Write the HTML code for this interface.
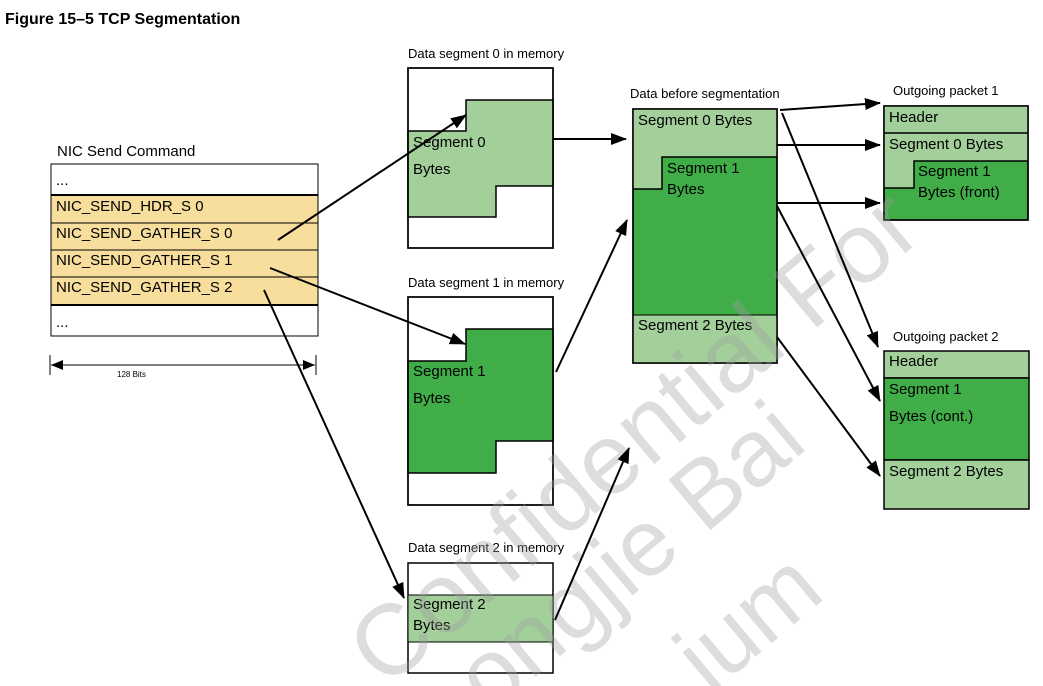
<!DOCTYPE html>
<html><head><meta charset="utf-8"><style>
html,body{margin:0;padding:0;background:#fff;width:1043px;height:686px;overflow:hidden;}
svg{display:block;font-family:"Liberation Sans",Arial,sans-serif;overflow:hidden;}
</style></head><body>
<svg width="1043" height="686" viewBox="0 0 1043 686" xmlns="http://www.w3.org/2000/svg">
<defs>
<marker id="b" markerWidth="16" markerHeight="12" refX="15" refY="6" orient="auto" markerUnits="userSpaceOnUse" viewBox="0 0 16 12">
<path d="M0,0 L16,6 L0,12 z" fill="#000"/></marker>
<clipPath id="c"><rect x="0" y="0" width="1043" height="686"/></clipPath>
</defs>
<text x="5" y="24" font-size="16" font-weight="bold">Figure 15–5  TCP Segmentation</text>

<!-- NIC Send Command -->
<text x="57" y="156" font-size="15">NIC Send Command</text>
<rect x="51" y="164" width="267" height="31" fill="#fff" stroke="#000"/>
<rect x="51" y="195" width="267" height="110" fill="#f8de9c" stroke="#000"/>
<line x1="51" y1="223" x2="318" y2="223" stroke="#000"/>
<line x1="51" y1="250" x2="318" y2="250" stroke="#000"/>
<line x1="51" y1="277" x2="318" y2="277" stroke="#000"/>
<rect x="51" y="305" width="267" height="31" fill="#fff" stroke="#000"/>
<line x1="51" y1="195" x2="318" y2="195" stroke="#000" stroke-width="2"/>
<line x1="51" y1="305" x2="318" y2="305" stroke="#000" stroke-width="2"/>
<g font-size="15">
<text x="56" y="185">...</text>
<text x="56" y="211">NIC_SEND_HDR_S 0</text>
<text x="56" y="238">NIC_SEND_GATHER_S 0</text>
<text x="56" y="265">NIC_SEND_GATHER_S 1</text>
<text x="56" y="292">NIC_SEND_GATHER_S 2</text>
<text x="56" y="327">...</text>
</g>
<line x1="50" y1="355" x2="50" y2="375" stroke="#000"/>
<line x1="316" y1="355" x2="316" y2="375" stroke="#000"/>
<line x1="51" y1="365" x2="315" y2="365" stroke="#000"/>
<path d="M51,365 L63,360 L63,370z M315,365 L303,360 L303,370z" fill="#000"/>
<text x="117" y="377" font-size="8">128 Bits</text>

<!-- Seg 0 memory -->
<text x="408" y="58" font-size="13">Data segment 0 in memory</text>
<rect x="408" y="68" width="145" height="180" fill="#fff" stroke="#000" stroke-width="1.5"/>
<path d="M408,131 H466 V100 H553 V186 H496 V217 H408 z" fill="#a3cf9b" stroke="#000" stroke-width="1.5"/>
<rect x="408" y="68" width="145" height="180" fill="none" stroke="#000" stroke-width="1.5"/>
<text x="413" y="147" font-size="15">Segment 0</text>
<text x="413" y="174" font-size="15">Bytes</text>

<!-- Seg 1 memory -->
<text x="408" y="287" font-size="13">Data segment 1 in memory</text>
<rect x="408" y="297" width="145" height="208" fill="#fff" stroke="#000" stroke-width="1.5"/>
<path d="M408,361 H466 V329 H553 V441 H496 V473 H408 z" fill="#40ad49" stroke="#000" stroke-width="1.5"/>
<rect x="408" y="297" width="145" height="208" fill="none" stroke="#000" stroke-width="1.5"/>
<text x="413" y="376" font-size="15">Segment 1</text>
<text x="413" y="403" font-size="15">Bytes</text>

<!-- Seg 2 memory -->
<text x="408" y="552" font-size="13">Data segment 2 in memory</text>
<rect x="408" y="563" width="145" height="110" fill="#fff" stroke="#000" stroke-width="1.5"/>
<rect x="408" y="595" width="145" height="47" fill="#a3cf9b" stroke="#000" stroke-width="1"/>
<text x="413" y="609" font-size="15">Segment 2</text>
<text x="413" y="630" font-size="15">Bytes</text>

<!-- Data before segmentation -->
<text x="630" y="98" font-size="13">Data before segmentation</text>
<rect x="633" y="109" width="144" height="254" fill="#40ad49" stroke="#000" stroke-width="1.5"/>
<path d="M633,109 H777 V157 H662 V189 H633 z" fill="#a3cf9b"/>
<path d="M777,157 H662 V189 H633" fill="none" stroke="#000" stroke-width="1.5"/>
<rect x="633" y="315" width="144" height="48" fill="#a3cf9b" stroke="#000" stroke-width="1"/>
<rect x="633" y="109" width="144" height="254" fill="none" stroke="#000" stroke-width="1.5"/>
<text x="638" y="125" font-size="15">Segment 0 Bytes</text>
<text x="667" y="173" font-size="15">Segment 1</text>
<text x="667" y="194" font-size="15">Bytes</text>
<text x="638" y="330" font-size="15">Segment 2 Bytes</text>

<!-- Packet 1 -->
<text x="893" y="95" font-size="13">Outgoing packet 1</text>
<rect x="884" y="106" width="144" height="114" fill="#40ad49" stroke="#000" stroke-width="1.5"/>
<path d="M884,106 H1028 V161 H914 V188 H884 z" fill="#a3cf9b"/>
<path d="M1028,161 H914 V188 H884" fill="none" stroke="#000" stroke-width="1.5"/>
<line x1="884" y1="133" x2="1028" y2="133" stroke="#000" stroke-width="1.5"/>
<rect x="884" y="106" width="144" height="114" fill="none" stroke="#000" stroke-width="1.5"/>
<text x="889" y="122" font-size="15">Header</text>
<text x="889" y="149" font-size="15">Segment 0 Bytes</text>
<text x="918" y="176" font-size="15">Segment 1</text>
<text x="918" y="197" font-size="15">Bytes (front)</text>

<!-- Packet 2 -->
<text x="893" y="341" font-size="13">Outgoing packet 2</text>
<rect x="884" y="351" width="145" height="27" fill="#a3cf9b" stroke="#000" stroke-width="1.5"/>
<rect x="884" y="378" width="145" height="82" fill="#40ad49" stroke="#000" stroke-width="1.5"/>
<rect x="884" y="460" width="145" height="49" fill="#a3cf9b" stroke="#000" stroke-width="1.5"/>
<text x="889" y="366" font-size="15">Header</text>
<text x="889" y="394" font-size="15">Segment 1</text>
<text x="889" y="421" font-size="15">Bytes (cont.)</text>
<text x="889" y="476" font-size="15">Segment 2 Bytes</text>

<!-- watermark -->
<g fill="#a0a0a0" opacity="0.35" clip-path="url(#c)">
<text font-size="100" transform="translate(385,690) rotate(-40)">Confidential For</text>
<text font-size="95" transform="translate(490,715) rotate(-40)">ongjie Bai</text>
<text font-size="95" transform="translate(710,695) rotate(-40)">ium</text>
</g>

<!-- arrows -->
<g stroke="#000" stroke-width="2" fill="none" marker-end="url(#b)">
<line x1="278" y1="240" x2="466" y2="115"/>
<line x1="270" y1="268" x2="465" y2="344"/>
<line x1="264" y1="290" x2="404" y2="598"/>
<line x1="553" y1="139" x2="626" y2="139"/>
<line x1="556" y1="372" x2="627" y2="220"/>
<line x1="555" y1="620" x2="629" y2="448"/>
<line x1="780" y1="110" x2="880" y2="103"/>
<line x1="777" y1="145" x2="880" y2="145"/>
<line x1="777" y1="203" x2="880" y2="203"/>
<line x1="782" y1="113" x2="878" y2="347"/>
<line x1="777" y1="206" x2="880" y2="401"/>
<line x1="777" y1="337" x2="880" y2="476"/>
</g>
</svg>
</body></html>
